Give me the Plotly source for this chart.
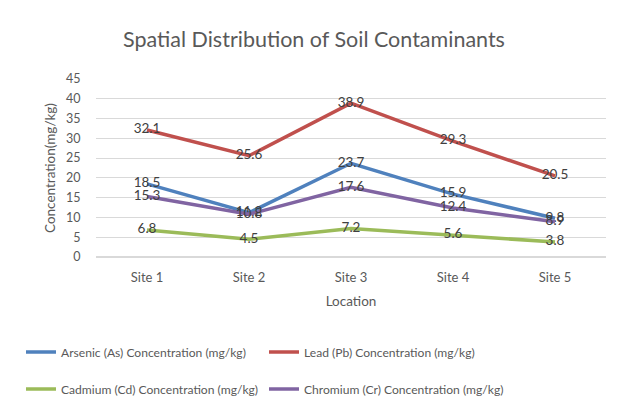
import plotly.graph_objects as go

sites = ["Site 1", "Site 2", "Site 3", "Site 4", "Site 5"]
arsenic = [18.5, 11.2, 23.7, 15.9, 9.8]
lead = [32.1, 25.6, 38.9, 29.3, 20.5]
cadmium = [6.8, 4.5, 7.2, 5.6, 3.8]
chromium = [15.3, 10.8, 17.6, 12.4, 8.9]

names = ["Arsenic (As) Concentration (mg/kg)", "Lead (Pb) Concentration (mg/kg)",
         "Cadmium (Cd) Concentration (mg/kg)", "Chromium (Cr) Concentration (mg/kg)"]
colors = ["#4F81BD", "#C0504D", "#9BBB59", "#8064A2"]
series = [arsenic, lead, cadmium, chromium]
legends = ["legend", "legend", "legend2", "legend2"]

FONT = "Lato"
fig = go.Figure()
for n, c, s, lg in zip(names, colors, series, legends):
    fig.add_trace(go.Scatter(
        x=sites, y=s, name=n, mode="lines+text",
        line=dict(color=c, width=3.5),
        text=[f"{v:.1f}" for v in s], textposition="middle center",
        textfont=dict(size=13.5, color="#404040", family=FONT),
        legend=lg, cliponaxis=False,
    ))

# page body has an 8px margin; size the figure so the plot lands where the reference has it
W, H = 611, 408
L, R, T, B = 88, 13, 71, 159
PW, PH = W - L - R, H - T - B
fig.update_layout(
    width=W, height=H,
    margin=dict(l=L, r=R, t=T, b=B),
    paper_bgcolor="white", plot_bgcolor="white",
    font=dict(family=FONT, color="#595959", size=12),
    title=dict(text="Spatial Distribution of Soil Contaminants", x=(314 - 8 - L) / PW, xref="paper",
               xanchor="center", y=1 - 31 / H, yanchor="middle",
               font=dict(size=21.5, color="#595959", family=FONT)),
    xaxis=dict(showgrid=False, showline=False, ticks="outside", ticklen=8, tickcolor="rgba(0,0,0,0)",
               zeroline=False,
               tickfont=dict(size=13, color="#595959"),
               title=dict(text="Location", font=dict(size=13.5, color="#595959"), standoff=12),
               range=[-0.5, 4.5]),
    yaxis=dict(range=[0, 45], dtick=5, showgrid=True, gridcolor="#D9D9D9", gridwidth=1,
               zeroline=True, zerolinecolor="#D9D9D9", showline=False,
               ticks="outside", ticklen=12, tickcolor="rgba(0,0,0,0)",
               tickfont=dict(size=12.5, color="#595959"),
               title=dict(text="Concentration(mg/kg)", font=dict(size=13.5, color="#595959"), standoff=7)),
    legend=dict(orientation="h", x=(21 - 8 - L) / PW, xanchor="left",
                y=(H - B - (352 - 8)) / PH, yanchor="middle",
                entrywidth=198, entrywidthmode="pixels",
                font=dict(size=12.1, color="#595959"), itemwidth=30, tracegroupgap=0),
    legend2=dict(orientation="h", x=(21 - 8 - L) / PW, xanchor="left",
                 y=(H - B - (389 - 8)) / PH, yanchor="middle",
                 entrywidth=198, entrywidthmode="pixels",
                 font=dict(size=12.1, color="#595959"), itemwidth=30, tracegroupgap=0),
)
fig.write_html("out.html")
